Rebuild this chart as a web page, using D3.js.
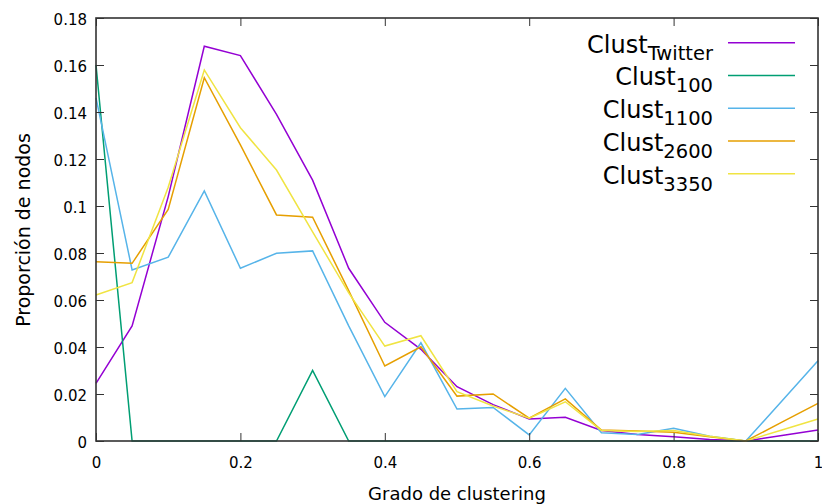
<!DOCTYPE html>
<html>
<head>
<meta charset="utf-8">
<script src="https://cdn.jsdelivr.net/npm/d3@7"></script>
<style>
  html, body { margin: 0; padding: 0; background: #fff; }
  svg { display: block; font-family: "DejaVu Sans", Verdana, sans-serif; }
</style>
</head>
<body>
<svg id="chart" width="822" height="504"></svg>
<script>
// Clustering degree bins
const grado = [0, 0.05, 0.1, 0.15, 0.2, 0.25, 0.3, 0.35, 0.4, 0.45, 0.5,
               0.55, 0.6, 0.65, 0.7, 0.75, 0.8, 0.85, 0.9, 0.95, 1];

// Node proportion per bin, one array per network
const clustTwitter = [0.0245, 0.049, 0.104, 0.168, 0.164, 0.139, 0.111, 0.0735, 0.0505, 0.039, 0.0231,
                      0.0155, 0.0094, 0.0101, 0.0045, 0.0028, 0.0018, 0.0006, 0, 0.0023, 0.0047];
const clust100     = [0.16, 0, 0, 0, 0, 0, 0.03, 0, 0, 0, 0,
                      0, 0, 0, 0, 0, 0, 0, 0, 0, 0];
const clust1100    = [0.146, 0.0728, 0.0782, 0.1064, 0.0735, 0.0799, 0.0809, 0.049, 0.0189, 0.0418, 0.0136,
                      0.0143, 0.0026, 0.0224, 0.0035, 0.0028, 0.0054, 0.002, 0, 0.017, 0.0342];
const clust2600    = [0.0763, 0.0756, 0.0985, 0.1546, 0.126, 0.0962, 0.0952, 0.064, 0.0319, 0.0401, 0.0191,
                      0.02, 0.0097, 0.0179, 0.0047, 0.0043, 0.0037, 0.0018, 0, 0.008, 0.016];
const clust3350    = [0.0621, 0.0674, 0.108, 0.1579, 0.1333, 0.1153, 0.089, 0.063, 0.0404, 0.0448, 0.021,
                      0.0149, 0.0097, 0.0167, 0.0045, 0.004, 0.0045, 0.002, 0, 0.0047, 0.0094];

const seriesNames = ["Twitter", "100", "1100", "2600", "3350"];
const seriesColors = ["#9400d3", "#009e73", "#56b4e9", "#e69f00", "#f0e442"];
const seriesValues = [clustTwitter, clust100, clust1100, clust2600, clust3350];

const xTickValues = [0, 0.2, 0.4, 0.6, 0.8, 1];
const xTickLabels = ["0", "0.2", "0.4", "0.6", "0.8", "1"];
const yTickValues = [0, 0.02, 0.04, 0.06, 0.08, 0.1, 0.12, 0.14, 0.16, 0.18];
const yTickLabels = ["0", "0.02", "0.04", "0.06", "0.08", "0.1", "0.12", "0.14", "0.16", "0.18"];

const xTitle = "Grado de clustering";
const yTitle = "Proporción de nodos";

// Layout
const width = 822, height = 504;
const margin = { top: 18, right: 4, bottom: 63, left: 96 };
const plotW = width - margin.left - margin.right;
const plotH = height - margin.top - margin.bottom;

const svg = d3.select("#chart");
const g = svg.append("g").attr("transform", `translate(${margin.left},${margin.top})`);

const x = d3.scaleLinear().domain([0, 1]).range([0, plotW]);
const y = d3.scaleLinear().domain([0, 0.18]).range([plotH, 0]);

// Data lines
const line = d3.line()
  .x((d, i) => x(grado[i]))
  .y(d => y(d));

seriesValues.forEach((vals, k) => {
  g.append("path")
    .datum(vals)
    .attr("fill", "none")
    .attr("stroke", seriesColors[k])
    .attr("stroke-width", 1.5)
    .attr("stroke-linejoin", "miter")
    .attr("d", line);
});

// Axes with inward ticks, mirrored on top and right
const tickLen = 8;
const axisColor = "#333";
const fmtX = d => xTickLabels[xTickValues.indexOf(d)];
const fmtY = d => yTickLabels[yTickValues.indexOf(d)];

function styleAxis(sel) {
  sel.select(".domain").remove();
  sel.selectAll(".tick line").attr("stroke", axisColor).attr("stroke-width", 1);
  sel.selectAll(".tick text").attr("fill", "#000").style("font-size", "15px")
    .style("font-family", '"DejaVu Sans", Verdana, sans-serif');
}

g.append("g")
  .attr("transform", `translate(0,${plotH})`)
  .call(d3.axisBottom(x).tickValues(xTickValues).tickFormat(fmtX)
    .tickSizeInner(-tickLen).tickSizeOuter(0).tickPadding(16))
  .call(styleAxis);

g.append("g")
  .call(d3.axisTop(x).tickValues(xTickValues).tickFormat("")
    .tickSizeInner(-tickLen).tickSizeOuter(0))
  .call(styleAxis);

const yAxisG = g.append("g")
  .call(d3.axisLeft(y).tickValues(yTickValues).tickFormat(fmtY)
    .tickSizeInner(-tickLen).tickSizeOuter(0).tickPadding(9))
  .call(styleAxis);
yAxisG.selectAll(".tick text").attr("dy", "0.45em");

g.append("g")
  .attr("transform", `translate(${plotW},0)`)
  .call(d3.axisRight(y).tickValues(yTickValues).tickFormat("")
    .tickSizeInner(-tickLen).tickSizeOuter(0))
  .call(styleAxis);

// Plot border, drawn over the data
g.append("rect")
  .attr("x", 0).attr("y", 0)
  .attr("width", plotW).attr("height", plotH)
  .attr("fill", "none")
  .attr("stroke", axisColor)
  .attr("stroke-width", 1.6);

// Axis titles
svg.append("text")
  .attr("x", margin.left + plotW / 2)
  .attr("y", 500)
  .attr("text-anchor", "middle")
  .style("font-size", "18px")
  .attr("fill", "#000")
  .text(xTitle);

svg.append("text")
  .attr("transform", "translate(30,230) rotate(-90)")
  .attr("text-anchor", "middle")
  .style("font-size", "19px")
  .attr("fill", "#000")
  .text(yTitle);

// Legend
const legendTop = 42.7, legendStep = 32.75;
const legend = svg.append("g");
seriesNames.forEach((name, k) => {
  const ly = legendTop + k * legendStep;
  const t = legend.append("text")
    .attr("x", 713)
    .attr("y", ly + 10)
    .attr("text-anchor", "end")
    .attr("fill", "#000");
  t.append("tspan").style("font-size", "24px").text("Clust");
  t.append("tspan").style("font-size", "19.5px").attr("dy", 7).text(name);
  legend.append("line")
    .attr("x1", 728).attr("x2", 795)
    .attr("y1", ly).attr("y2", ly)
    .attr("stroke", seriesColors[k])
    .attr("stroke-width", 1.5);
});
</script>
</body>
</html>
